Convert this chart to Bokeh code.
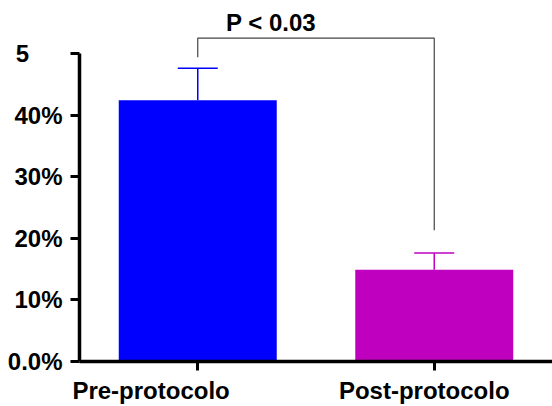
from bokeh.plotting import figure
from bokeh.models import ColumnDataSource, Whisker, TeeHead, FixedTicker, Label, Range1d
from bokeh.embed import file_html
from bokeh.resources import INLINE

categories = ["Pre-protocolo", "Post-protocolo"]
means = [42.4, 14.9]
errors = [5.2, 2.7]
colors = ["#0000FF", "#BF00BF"]
y_ticks = [0, 10, 20, 30, 40, 50]
y_tick_labels = ["0.0%", "10%", "20%", "30%", "40%", "5\u00a0\u00a0\u00a0\u00a0\u00a0"]
x_tick_labels = ["Pre-protocolo" + "\u00a0" * 14, "Post-protocolo" + "\u00a0" * 3]
bracket_left_y = 49.4
bracket_top_y = 52.5
bracket_right_y = 21.3
p_text = "P < 0.03"

FONT = "Liberation Sans"
FS = "24px"

xs = [i + 0.5 for i in range(len(categories))]

p = figure(x_range=Range1d(0, len(categories)), y_range=Range1d(0, 58.6),
           width=552, height=406, output_backend="svg", toolbar_location=None,
           min_border_left=79, min_border_right=0, min_border_top=0, min_border_bottom=45)
p.outline_line_color = None
p.xgrid.visible = False
p.ygrid.visible = False
p.background_fill_color = "white"
p.border_fill_color = "white"

src = ColumnDataSource(dict(x=xs, mean=means, color=colors))
p.vbar(x="x", top="mean", bottom=0, width=0.668, fill_color="color", line_color=None, source=src)

for i in range(len(categories)):
    s = ColumnDataSource(dict(base=[xs[i]], lower=[means[i]], upper=[means[i] + errors[i]]))
    w = Whisker(base="base", lower="lower", upper="upper", source=s, dimension="height",
                lower_head=None,
                upper_head=TeeHead(size=40, line_color=colors[i], line_width=1.5),
                line_color=colors[i], line_width=1.5, level="overlay")
    p.add_layout(w)

p.line(x=[xs[0], xs[0], xs[1], xs[1]],
       y=[bracket_left_y, bracket_top_y, bracket_top_y, bracket_right_y],
       line_color="#444444", line_width=1.2)

p.add_layout(Label(x=0.81, y=55.0, text=p_text, text_align="center", text_baseline="alphabetic",
                   text_font=FONT, text_font_size=FS, text_font_style="bold", text_color="black"))

p.axis.axis_line_width = 3.5
p.axis.axis_line_color = "black"
p.axis.major_tick_line_width = 3
p.axis.major_tick_line_color = "black"
p.axis.major_tick_out = 9
p.axis.major_tick_in = 0
p.axis.minor_tick_line_color = None
p.axis.major_label_text_font = FONT
p.axis.major_label_text_font_size = FS
p.axis.major_label_text_font_style = "bold"
p.axis.major_label_text_color = "black"
p.xaxis.major_label_standoff = 6
p.yaxis.major_label_standoff = 8
p.xaxis.ticker = FixedTicker(ticks=xs)
p.xaxis.major_label_overrides = {x: l for x, l in zip(xs, x_tick_labels)}
p.yaxis.ticker = FixedTicker(ticks=y_ticks)
p.yaxis.bounds = (0, 50)
p.yaxis.major_label_overrides = {t: l for t, l in zip(y_ticks, y_tick_labels)}

open("out.html", "w").write(file_html(p, INLINE))
